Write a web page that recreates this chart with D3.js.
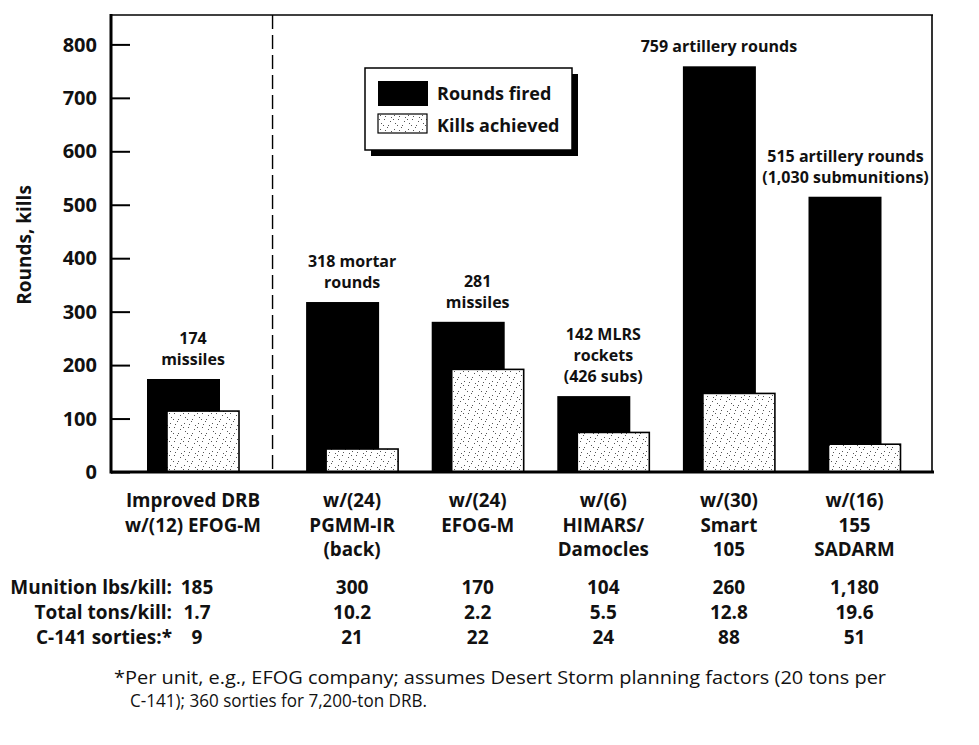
<!DOCTYPE html>
<html>
<head>
<meta charset="utf-8">
<script src="https://cdn.jsdelivr.net/npm/d3@7"></script>
<style>
  html, body { margin: 0; padding: 0; background: #fff; }
  svg { display: block; }
  text { font-family: "Open Sans", "Noto Sans", sans-serif; fill: #111; }
</style>
</head>
<body>
<svg id="chart" width="979" height="745"></svg>
<script>
// ---------------- DATA ----------------
const categories = ["Improved DRB", "PGMM-IR", "EFOG-M", "HIMARS", "Smart 105", "SADARM"];
const categoryLines = [
  ["Improved DRB", "w/(12) EFOG-M"],
  ["w/(24)", "PGMM-IR", "(back)"],
  ["w/(24)", "EFOG-M"],
  ["w/(6)", "HIMARS/", "Damocles"],
  ["w/(30)", "Smart", "105"],
  ["w/(16)", "155", "SADARM"]
];
const roundsFired = [174, 318, 281, 142, 759, 515];
const killsAchieved = [114, 43, 192, 74, 147, 52];
const barNotes = [
  ["174", "missiles"],
  ["318 mortar", "rounds"],
  ["281", "missiles"],
  ["142 MLRS", "rockets", "(426 subs)"],
  ["759 artillery rounds"],
  ["515 artillery rounds", "(1,030 submunitions)"]
];
const yTicks = [0, 100, 200, 300, 400, 500, 600, 700, 800];
const tableRowLabels = ["Munition lbs/kill:", "Total tons/kill:", "C-141 sorties:*"];
const munitionLbsPerKill = ["185", "300", "170", "104", "260", "1,180"];
const totalTonsPerKill = ["1.7", "10.2", "2.2", "5.5", "12.8", "19.6"];
const c141Sorties = ["9", "21", "22", "24", "88", "51"];
const seriesNames = ["Rounds fired", "Kills achieved"];
const yTitle = "Rounds, kills";
const footnote = [
  "*Per unit, e.g., EFOG company; assumes Desert Storm planning factors (20 tons per",
  "C-141); 360 sorties for 7,200-ton DRB."
];

// ---------------- LAYOUT ----------------
const svg = d3.select("#chart");
const plot = { left: 111, right: 932, top: 15, bottom: 472 };
const dividerGap = 33.5;

const y = d3.scaleLinear().domain([0, 855]).range([plot.bottom, plot.top]);
const xp = d3.scalePoint().domain(categories).range([226.5, 854.5]);
const cx = (c, i) => xp(c) - (i === 0 ? dividerGap : 0);
const blackOff = -46, blackW = 73, killOff = -26, killW = 72;

// stipple pattern
const defs = svg.append("defs");
const pat = defs.append("pattern").attr("id", "stipple").attr("patternUnits", "userSpaceOnUse")
  .attr("width", 14).attr("height", 14);
pat.append("rect").attr("width", 14).attr("height", 14).attr("fill", "#fff");
[[2,3],[9,1],[6,7],[12,9],[3,11],[10,13],[7,4],[1,7],[13,5],[5,13]].forEach(p =>
  pat.append("rect").attr("x", p[0]).attr("y", p[1]).attr("width", 1).attr("height", 1).attr("fill", "#555"));

const g = svg.append("g");

// bars: rounds fired
g.selectAll("rect.rounds").data(roundsFired).join("rect")
  .attr("class", "rounds")
  .attr("x", (d, i) => cx(categories[i], i) + blackOff)
  .attr("width", blackW)
  .attr("y", d => y(d))
  .attr("height", d => y(0) - y(d))
  .attr("fill", "#000");

// bars: kills achieved
g.selectAll("rect.kills").data(killsAchieved).join("rect")
  .attr("class", "kills")
  .attr("x", (d, i) => cx(categories[i], i) + killOff)
  .attr("width", killW)
  .attr("y", d => y(d))
  .attr("height", d => y(0) - y(d))
  .attr("fill", "url(#stipple)")
  .attr("stroke", "#000")
  .attr("stroke-width", 1.6);

// frame: top + right thin
g.append("line").attr("x1", plot.left).attr("x2", plot.right + 1).attr("y1", plot.top).attr("y2", plot.top)
  .attr("stroke", "#000").attr("stroke-width", 1.6);
g.append("line").attr("x1", plot.right).attr("x2", plot.right).attr("y1", plot.top).attr("y2", plot.bottom)
  .attr("stroke", "#000").attr("stroke-width", 1.6);

// dashed divider
const divX = (cx(categories[0], 0) + killOff + killW + cx(categories[1], 1) + blackOff) / 2;
g.append("line").attr("x1", divX).attr("x2", divX).attr("y1", plot.top).attr("y2", plot.bottom)
  .attr("stroke", "#000").attr("stroke-width", 1.4).attr("stroke-dasharray", "14,6");

// y axis
const yAxis = d3.axisRight(y).tickValues(yTicks).tickSize(19).tickFormat("");
const ya = g.append("g").attr("transform", `translate(${plot.left},0)`).call(yAxis);
ya.select(".domain").remove();
ya.selectAll(".tick line").attr("stroke", "#000").attr("stroke-width", 2);
g.selectAll("text.ytick").data(yTicks).join("text").attr("class", "ytick")
  .attr("x", 97).attr("y", d => y(d)).attr("dy", "0.36em")
  .attr("text-anchor", "end").attr("font-size", 20).attr("font-weight", 700)
  .text(d => d);

// left + bottom thick axis lines
g.append("line").attr("x1", plot.left).attr("x2", plot.left).attr("y1", plot.top - 1).attr("y2", plot.bottom + 1.5)
  .attr("stroke", "#000").attr("stroke-width", 3);
g.append("line").attr("x1", plot.left).attr("x2", plot.right + 2).attr("y1", plot.bottom).attr("y2", plot.bottom)
  .attr("stroke", "#000").attr("stroke-width", 3.2);

// y title
g.append("text").attr("transform", `translate(31,245) rotate(-90)`)
  .attr("text-anchor", "middle").attr("font-size", 19).attr("font-weight", 700).text(yTitle);

// bar notes
barNotes.forEach((lines, i) => {
  const top = y(roundsFired[i]);
  const x = cx(categories[i], i) + (i === 4 ? -10 : (i === 5 ? -9 : 0));
  const lh = 21;
  lines.forEach((t, k) => {
    g.append("text").attr("x", x).attr("y", top - 14 - (lines.length - 1 - k) * lh)
      .attr("text-anchor", "middle").attr("font-size", 16).attr("font-weight", 700).text(t);
  });
});

// category labels
categoryLines.forEach((lines, i) => {
  lines.forEach((t, k) => {
    g.append("text").attr("x", cx(categories[i], i)).attr("y", 507 + k * 24.5)
      .attr("text-anchor", "middle").attr("font-size", 18.8).attr("font-weight", 700).text(t);
  });
});

// table
const tableRows = [munitionLbsPerKill, totalTonsPerKill, c141Sorties];
tableRows.forEach((vals, r) => {
  const yy = 594 + r * 25;
  g.append("text").attr("x", 172).attr("y", yy).attr("text-anchor", "end")
    .attr("font-size", 19).attr("font-weight", 700).text(tableRowLabels[r]);
  vals.forEach((v, i) => {
    g.append("text").attr("x", cx(categories[i], i) + (i === 0 ? 4 : 0)).attr("y", yy)
      .attr("text-anchor", "middle").attr("font-size", 19).attr("font-weight", 700).text(v);
  });
});

// legend
const lg = svg.append("g");
lg.append("rect").attr("x", 371).attr("y", 74).attr("width", 207).attr("height", 82).attr("fill", "#000");
lg.append("rect").attr("x", 365).attr("y", 68).attr("width", 207).attr("height", 82)
  .attr("fill", "#fff").attr("stroke", "#000").attr("stroke-width", 1.5);
lg.append("rect").attr("x", 378).attr("y", 81).attr("width", 50).attr("height", 25).attr("fill", "#000");
lg.append("rect").attr("x", 378).attr("y", 114).attr("width", 49).attr("height", 19)
  .attr("fill", "url(#stipple)").attr("stroke", "#000").attr("stroke-width", 1.2);
seriesNames.forEach((n, k) => {
  lg.append("text").attr("x", 437).attr("y", 100 + k * 32).attr("font-size", 18).attr("font-weight", 700).text(n);
});

// footnote
svg.append("text").attr("x", 114).attr("y", 684).attr("font-size", 18).attr("font-weight", 400)
  .attr("textLength", 772).attr("lengthAdjust", "spacingAndGlyphs").text(footnote[0]);
svg.append("text").attr("x", 130).attr("y", 707).attr("font-size", 18).attr("font-weight", 400)
  .attr("textLength", 297).attr("lengthAdjust", "spacingAndGlyphs").text(footnote[1]);
</script>
</body>
</html>
